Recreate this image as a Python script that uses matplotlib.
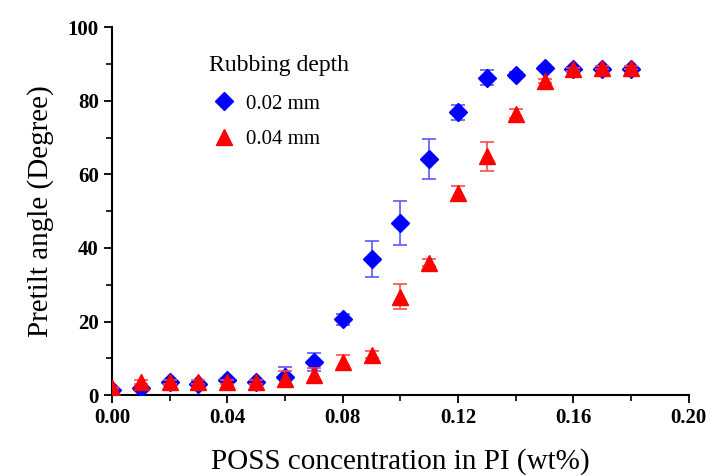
import numpy as np
import matplotlib.pyplot as plt
from matplotlib.lines import Line2D

plt.rcParams['font.family'] = ['Liberation Serif', 'DejaVu Serif']

# POSS content (wt%)
conc = [0.00, 0.01, 0.02, 0.03, 0.04, 0.05, 0.06, 0.07, 0.08, 0.09,
        0.10, 0.11, 0.12, 0.13, 0.14, 0.15, 0.16, 0.17, 0.18]

# rubbing depth 0.02 mm
angle_02 = [1.5, 2.0, 3.5, 3.0, 4.0, 3.5, 5.0, 9.0, 20.6, 37.0,
            46.7, 64.1, 76.8, 86.3, 87.1, 89.0, 88.6, 88.6, 88.6]
err_02 = [0.3, 0.3, 0.5, 0.5, 0.5, 0.5, 2.7, 2.5, 1.5, 5.0,
          6.0, 5.5, 2.0, 2.0, 0.8, 0.5, 0.6, 0.6, 0.6]

# rubbing depth 0.04 mm
angle_04 = [2.0, 3.5, 3.5, 3.5, 3.5, 3.5, 4.5, 5.5, 9.0, 11.0,
            26.8, 36.0, 54.8, 64.9, 76.5, 85.3, 88.5, 89.0, 89.0]
err_04 = [0.3, 0.5, 0.5, 0.5, 0.5, 0.5, 2.0, 2.0, 2.0, 1.0,
          3.5, 1.0, 2.0, 4.0, 1.2, 0.5, 0.5, 0.5, 0.5]

fig = plt.figure(figsize=(7.13, 4.75), dpi=100)
ax = fig.add_axes([0.157, 0.168, 0.809, 0.775])

ax.errorbar(conc, angle_02, yerr=err_02, fmt='D', color='blue', ms=9.5,
            ecolor=(0.35, 0.35, 1.0), elinewidth=1.2, capsize=5, capthick=1.2,
            zorder=3)
ax.errorbar(conc, angle_04, yerr=err_04, fmt='^', color='red', ms=11,
            ecolor=(1.0, 0.3, 0.3), elinewidth=1.2, capsize=5, capthick=1.2,
            zorder=4)

ax.set_xlim(0, 0.20)
ax.set_ylim(0, 100)
ax.set_xticks(np.arange(0, 0.21, 0.04))
ax.set_xticks(np.arange(0, 0.21, 0.02), minor=True)
ax.set_yticks(np.arange(0, 101, 20))
ax.set_yticks(np.arange(0, 101, 10), minor=True)
ax.xaxis.set_major_formatter(plt.FormatStrFormatter('%.2f'))

ax.spines['top'].set_visible(False)
ax.spines['right'].set_visible(False)
ax.spines['left'].set_linewidth(1.5)
ax.spines['bottom'].set_linewidth(1.5)
ax.tick_params(direction='out', length=6, width=1.3, labelsize=15)
ax.tick_params(which='minor', direction='out', length=4, width=1.2)
for lab in ax.get_xticklabels() + ax.get_yticklabels():
    lab.set_fontweight('bold')

ax.set_xlabel('POSS concentration in PI (wt%)', fontsize=21, labelpad=14)
ax.set_ylabel('Pretilt angle (Degree)', fontsize=21, labelpad=10)

# legend shows markers only
handles = [Line2D([], [], ls='none', marker='D', color='blue', ms=9.5),
           Line2D([], [], ls='none', marker='^', color='red', ms=11)]
leg = ax.legend(handles, ['0.02 mm', '0.04 mm'], loc='upper left',
                bbox_to_anchor=(0.135, 0.975), frameon=False,
                title='Rubbing depth', fontsize=15, title_fontsize=17,
                handletextpad=0.3, labelspacing=0.75, handlelength=1.5)
leg._legend_box.align = 'left'
leg._legend_box.sep = 13

fig.savefig('out.png', dpi=100)
